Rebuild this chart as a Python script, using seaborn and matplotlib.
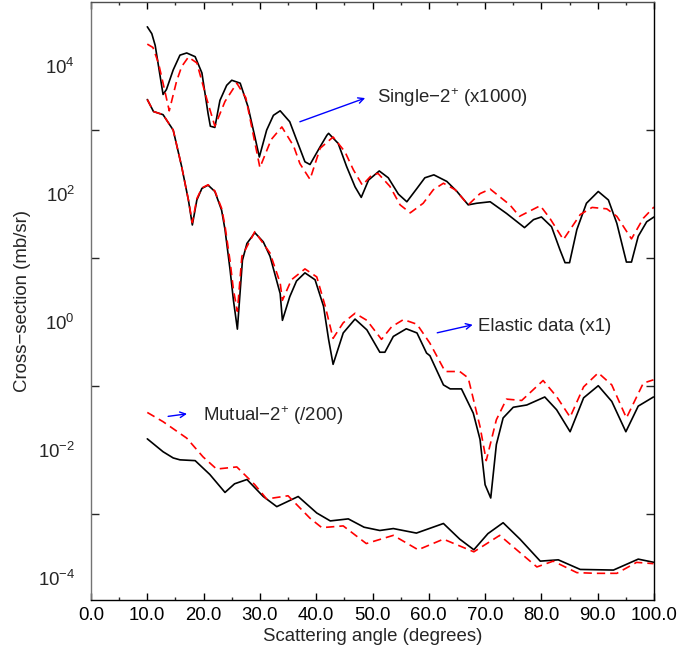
import matplotlib
matplotlib.use("Agg")
import matplotlib.pyplot as plt
import seaborn as sns
import numpy as np
import pandas as pd
from matplotlib.ticker import FixedLocator, NullFormatter

# ---------------- data ----------------
# Single-2+ (x1000)
single_calc_x = [10, 10.8, 11.4, 12.1, 12.8, 13.4, 14.6, 15.8, 17, 18.5, 19.7, 20.8, 21.2, 22.0,
                 22.9, 24.1, 25, 26.5, 27.9, 29.1, 29.9, 31.2, 32.4, 33.6, 35.3, 36.5, 38, 38.9,
                 40.7, 41.9, 42.2, 43.9, 45.4, 46.9, 48, 49.3, 51.2, 52.8, 54.6, 56.1, 57.9, 59.3,
                 60.9, 63.2, 65, 67, 68.5, 70.9, 73.8, 77, 78.6, 80, 81.8, 83.3, 84.2, 85, 86.3,
                 88, 90.1, 91.9, 93.4, 95.1, 96, 97.2, 98.7, 100]
single_calc_y = [4.1e4, 3.2e4, 2.1e4, 8.7e3, 3.6e3, 4.3e3, 8.7e3, 1.48e4, 1.6e4, 1.4e4, 7.8e3, 1.8e3, 1.15e3, 1.1e3,
                 2.9e3, 5.0e3, 6.0e3, 5.4e3, 2.3e3, 7.9e2, 3.8e2, 1.0e3, 1.7e3, 2.0e3, 1.35e3, 7.1e2, 3.2e2, 2.9e2,
                 5.5e2, 8.3e2, 8.9e2, 6.2e2, 2.7e2, 1.3e2, 89, 166, 230, 180, 100, 76, 123, 180,
                 200, 158, 110, 68, 72, 76, 50, 30, 40, 44, 31, 13.5, 8.5, 8.5, 28,
                 72, 110, 81, 35, 8.7, 8.7, 22, 37, 44]
single_data_x = [10, 11, 12, 12.8, 13.9, 15.2, 16.1, 17.3, 18.8, 20.5, 22, 23.8, 25.9, 27.5,
                 30, 32, 33.9, 36, 37.1, 38.9, 40.7, 43, 45.1, 46.6, 48.2, 49.9, 51, 53.1, 54.9,
                 56.7, 59, 60.8, 62.6, 64.7, 67, 69.1, 70.9, 74.4, 76.1, 79.8, 81.5, 83.9, 86.9,
                 89, 91.6, 93.4, 96, 98.1, 100]
single_data_y = [2.2e4, 1.95e4, 1.1e4, 5.4e3, 2.0e3, 5.8e3, 9.8e3, 1.38e4, 1.12e4, 3.2e3, 1.15e3, 2.8e3, 5.4e3, 3.2e3,
                 2.6e2, 7.1e2, 1.12e3, 5.6e2, 3.0e2, 1.7e2, 5.2e2, 7.8e2, 4.6e2, 2.4e2, 1.38e2, 2.0e2, 2.1e2, 1.32e2, 68,
                 51, 72, 117, 148, 117, 68, 102, 120, 68, 45, 66, 42, 19.5, 48,
                 62, 59, 45, 20, 42, 63]

# Elastic data (x1)
elastic_calc_x = [10, 11.1, 12.8, 14.6, 16.1, 17.3, 18.0, 18.8, 19.7, 20.8, 22, 23.2, 23.8, 24.7,
                  25.3, 26, 26.9, 27.7, 29.1, 30.6, 31.8, 33.6, 34, 35.3, 36.5, 38, 39.8, 41.3,
                  42.2, 43, 44.8, 46.9, 49, 51.3, 52.2, 53.7, 56, 57.9, 59.6, 60.2, 62.6, 63.8,
                  65.8, 67.9, 69.1, 70, 71, 72, 73.2, 75, 77.4, 80.6, 82.7, 85.1, 87.5, 90.1,
                  92.5, 95, 97.2, 99.9]
elastic_calc_y = [3.0e3, 1.95e3, 1.74e3, 1.0e3, 2.7e2, 81, 33, 81, 123, 138, 110, 56, 28, 6.6,
                  2.2, 0.78, 9.3, 17, 25, 18, 10.7, 2.8, 1.07, 2.5, 4.4, 5.9, 4.6, 1.78,
                  0.54, 0.22, 0.68, 1.12, 0.76, 0.34, 0.34, 0.60, 0.79, 0.68, 0.33, 0.30, 0.105, 0.091,
                  0.091, 0.038, 0.0148, 0.0029, 0.0018, 0.0123, 0.032, 0.047, 0.051, 0.068, 0.043, 0.0195, 0.066, 0.102,
                  0.058, 0.0195, 0.049, 0.068]
elastic_data_x = [10, 11.1, 12.8, 14.6, 16.1, 17.3, 18.0, 18.8, 19.7, 20.8, 22, 23.2, 23.8, 24.7,
                  25.3, 26, 26.8, 29.1, 31.8, 33.6, 34, 35.6, 38, 40.1, 41.6, 43, 44.8, 46.9,
                  49, 51.6, 53.4, 55.5, 57.9, 60.2, 62.9, 65.5, 67, 69.1, 70.2, 72, 73.8, 76.5,
                  80.3, 82.7, 85.1, 87.5, 90.1, 92.5, 95.1, 98.1, 99.9]
elastic_data_y = [3.0e3, 1.95e3, 1.74e3, 1.0e3, 2.7e2, 81, 36, 85, 125, 140, 112, 60, 32, 9.0,
                  3.2, 1.48, 10.7, 26, 12, 4.1, 2.2, 4.6, 6.8, 5.1, 1.78, 0.56, 0.98, 1.38,
                  1.07, 0.54, 0.85, 1.1, 0.93, 0.47, 0.17, 0.17, 0.135, 0.0234, 0.0069, 0.030, 0.063, 0.060,
                  0.123, 0.069, 0.033, 0.098, 0.162, 0.105, 0.032, 0.112, 0.126]

# Mutual-2+ (/200)
mutual_calc_x = [10, 12.8, 14.6, 15.8, 18.5, 21.1, 23.8, 25.5, 27.7, 30.6, 33, 36.8, 40.1, 42.5,
                 45.7, 48.5, 51.3, 53.7, 57.8, 62.6, 65.5, 68, 70.5, 73.2, 76.2, 79.8, 83, 86.9,
                 92.8, 97.2, 100]
mutual_calc_y = [0.0151, 0.0095, 0.0076, 0.0071, 0.0069, 0.0042, 0.0022, 0.0030, 0.0035, 0.0019, 0.00132, 0.0019, 0.00105, 0.00079,
                 0.00085, 0.00063, 0.00056, 0.00060, 0.00051, 0.00072, 0.00041, 0.00028, 0.00050, 0.00074, 0.00041, 0.000186, 0.000195, 0.000138,
                 0.000135, 0.000200, 0.000178]
mutual_data_x = [10, 12.8, 17, 19.9, 22.3, 25.9, 29.1, 31.2, 35, 38.9, 41, 44.8, 48.9, 53.7,
                 58.1, 62.6, 68, 72.6, 75.6, 79.2, 82.1, 86.3, 89.8, 93.4, 96.9, 99.9]
mutual_data_y = [0.039, 0.028, 0.0155, 0.0079, 0.0051, 0.0055, 0.0029, 0.00174, 0.00195, 0.00087, 0.00062, 0.00066, 0.00035, 0.00047,
                 0.00028, 0.00041, 0.00026, 0.00047, 0.00028, 0.000151, 0.000186, 0.000123, 0.000120, 0.000120, 0.000178, 0.000170]

x_ticks = [0, 10, 20, 30, 40, 50, 60, 70, 80, 90, 100]
x_tick_labels = ["0.0", "10.0", "20.0", "30.0", "40.0", "50.0", "60.0", "70.0", "80.0", "90.0", "100.0"]
y_ticks = [1e-4, 1e-2, 1e0, 1e2, 1e4]
y_tick_labels = [r"$10^{-4}$", r"$10^{-2}$", r"$10^{0}$", r"$10^{2}$", r"$10^{4}$"]
y_minor_ticks = [1e-3, 1e-1, 1e1, 1e3]

# ---------------- style ----------------
sns.set_theme(style="ticks")
plt.rcParams["font.family"] = ["Liberation Sans", "DejaVu Sans"]
plt.rcParams["mathtext.fontset"] = "custom"
plt.rcParams["mathtext.rm"] = "Liberation Sans"
plt.rcParams["mathtext.it"] = "Liberation Sans:italic"
plt.rcParams["mathtext.bf"] = "Liberation Sans:bold"
plt.rcParams["mathtext.default"] = "regular"

FS = 13.4

fig = plt.figure(figsize=(6.78, 6.58), dpi=100)
ax = fig.add_axes([91 / 678, 1 - 600 / 658, (654 - 91) / 678, (600 - 2) / 658])

series = [
    (single_calc_x, single_calc_y, "black", "-"),
    (single_data_x, single_data_y, "red", (0, (5, 3))),
    (elastic_calc_x, elastic_calc_y, "black", "-"),
    (elastic_data_x, elastic_data_y, "red", (0, (5, 3))),
    (mutual_calc_x, mutual_calc_y, "black", "-"),
    (mutual_data_x, mutual_data_y, "red", (0, (5, 3))),
]
for xs, ys, col, ls in series:
    df = pd.DataFrame({"angle": xs, "xs": ys})
    sns.lineplot(data=df, x="angle", y="xs", ax=ax, color=col, linestyle=ls,
                 linewidth=1.2, estimator=None, sort=False)

ax.set_yscale("log")
ax.set_xlim(0, 100)
ax.set_ylim(4.6e-5, 1e5)

ax.xaxis.set_major_locator(FixedLocator(x_ticks))
ax.set_xticklabels(x_tick_labels)
ax.xaxis.set_minor_locator(FixedLocator([5, 15, 25, 35, 45, 55, 65, 75, 85, 95]))
ax.yaxis.set_major_locator(FixedLocator(y_ticks))
ax.set_yticklabels(y_tick_labels)
ax.yaxis.set_minor_locator(FixedLocator(y_minor_ticks))
ax.yaxis.set_minor_formatter(NullFormatter())

ax.tick_params(axis="x", which="major", direction="in", length=5, width=1, top=True,
               labelsize=FS, pad=5, colors="black")
ax.tick_params(axis="x", which="minor", direction="in", length=2.5, width=1, top=True)
ax.tick_params(axis="y", which="major", length=0, labelsize=FS, pad=11.5)
ax.tick_params(axis="y", which="minor", direction="in", length=5.5, width=1,
               left=True, right=True)

for side in ["left", "right", "top", "bottom"]:
    ax.spines[side].set_visible(True)
    ax.spines[side].set_linewidth(1.0)
    ax.spines[side].set_color("black")
ax.spines["left"].set_color("0.45")
ax.spines["top"].set_color("0.3")

ax.set_xlabel("Scattering angle (degrees)", fontsize=FS)
ax.set_ylabel("Cross\u2212section (mb/sr)", fontsize=FS)
ax.xaxis.set_label_coords(0.5, -0.047)
ax.yaxis.set_label_coords(-0.107, 0.5)

arrow = dict(arrowstyle="->", color="blue", lw=1, shrinkA=0, shrinkB=0, mutation_scale=10)
ax.annotate("", xy=(48.7, 10 ** 3.50), xytext=(37.1, 10 ** 3.13), arrowprops=arrow)
ax.text(50.8, 10 ** 3.50, "Single\u22122$^{+}$ (x1000)", fontsize=FS, va="center", ha="left")
ax.annotate("", xy=(67.8, 10 ** -0.04), xytext=(61.5, 10 ** -0.165), arrowprops=arrow)
ax.text(68.7, 10 ** -0.07, "Elastic data (x1)", fontsize=FS, va="center", ha="left")
ax.annotate("", xy=(17.05, 10 ** -1.43), xytext=(13.7, 10 ** -1.47), arrowprops=arrow)
ax.text(19.9, 10 ** -1.46, "Mutual\u22122$^{+}$ (/200)", fontsize=FS, va="center", ha="left")

fig.savefig("out.png", dpi=100)
